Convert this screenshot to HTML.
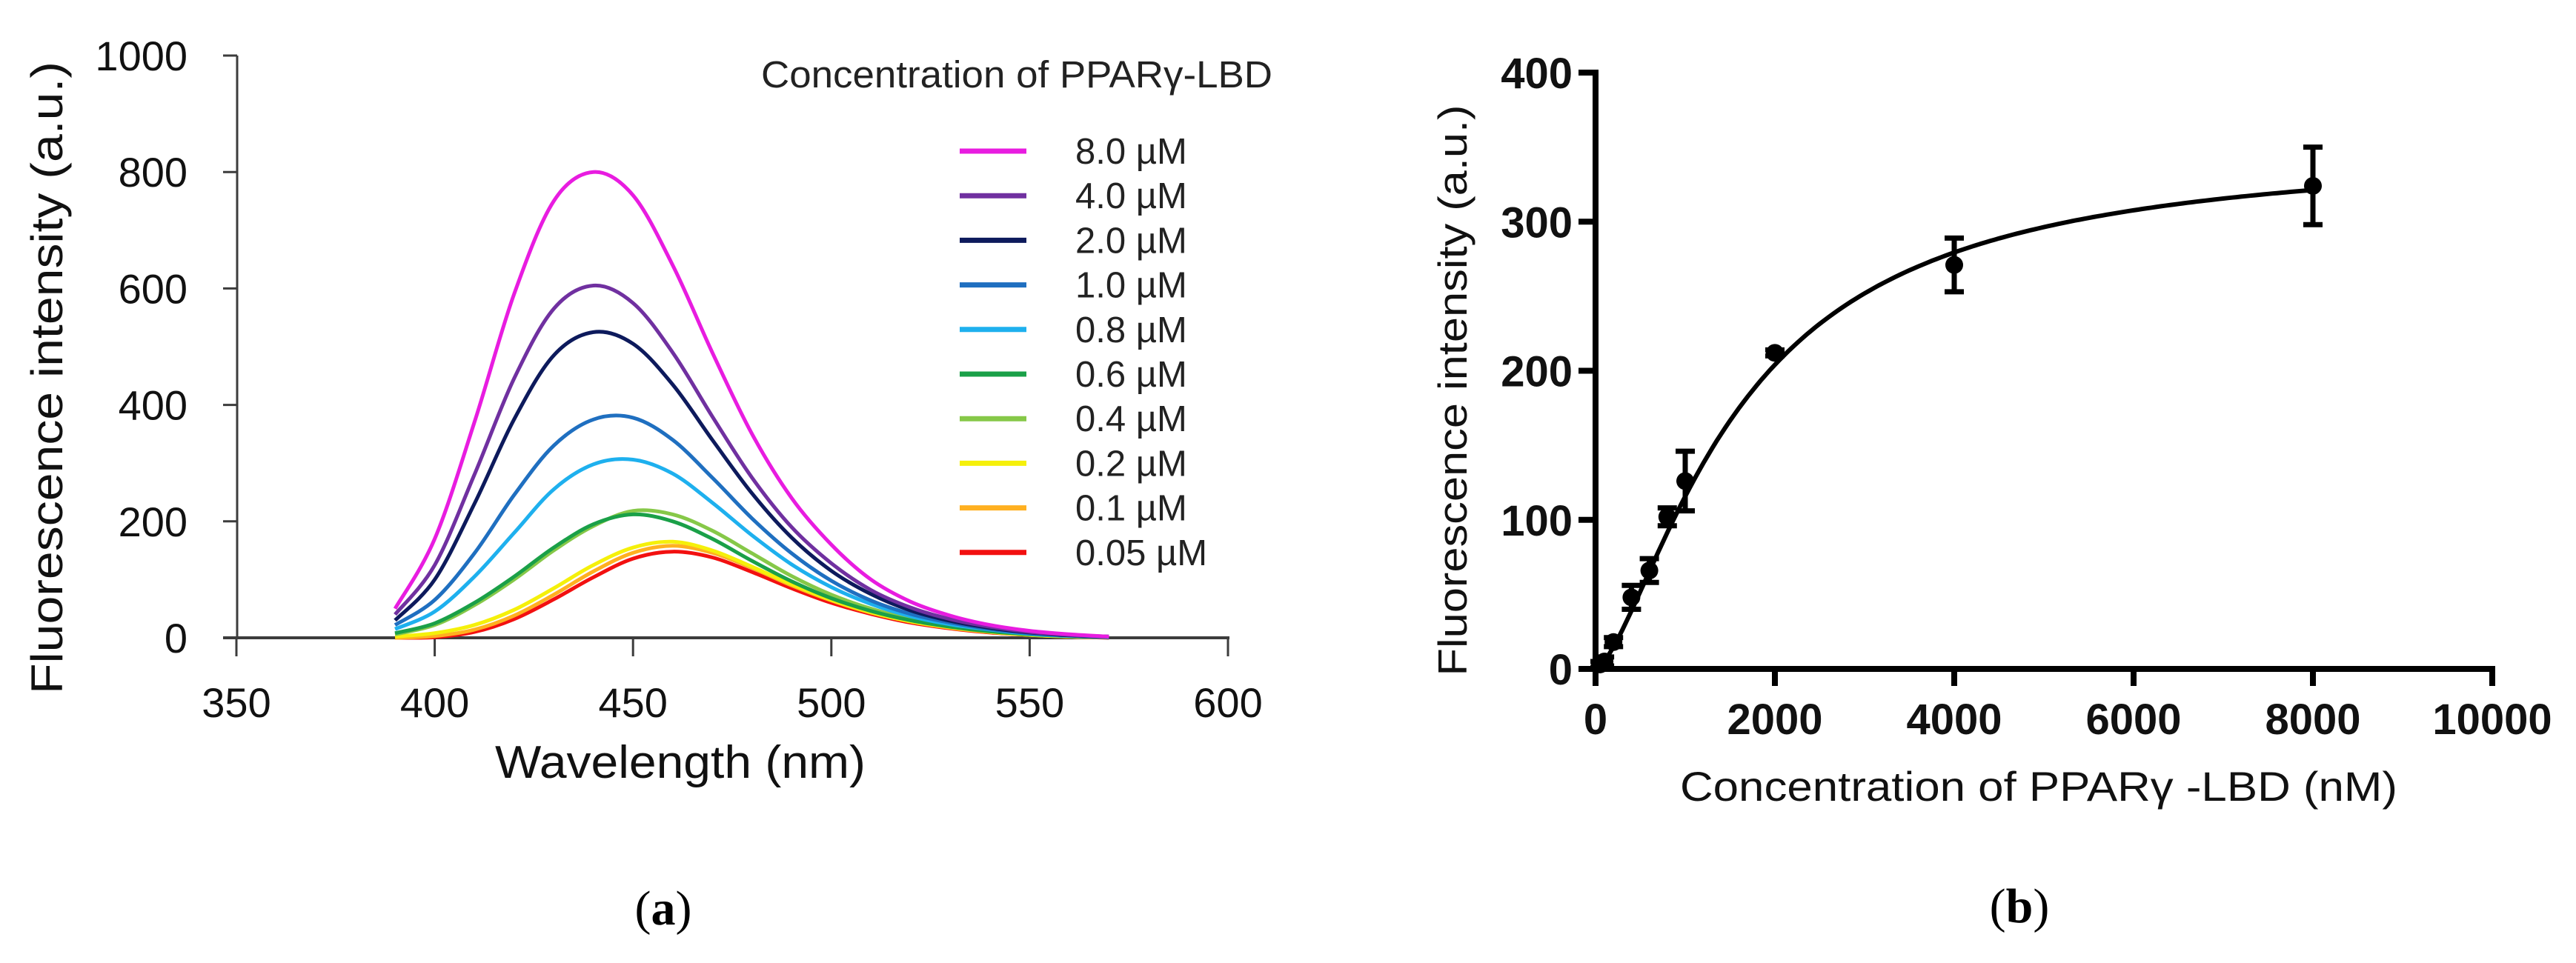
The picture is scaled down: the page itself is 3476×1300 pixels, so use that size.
<!DOCTYPE html>
<html><head><meta charset="utf-8"><style>
html,body{margin:0;padding:0;background:#fff;}
svg{display:block;font-family:"Liberation Sans",sans-serif;}
</style></head><body>
<svg id="fig" width="3476" height="1300" viewBox="0 0 3476 1300" xmlns="http://www.w3.org/2000/svg">
<g id="pa"></g>
<g id="pb"></g>
</svg>
<script>
// ---------- Panel A data ----------
const waveX = [390,400,410,420,430,440,450,460,470,480,490,500,510,520,530,540,550,560,570];
const seriesLabels = ["8.0 \u00b5M","4.0 \u00b5M","2.0 \u00b5M","1.0 \u00b5M","0.8 \u00b5M","0.6 \u00b5M","0.4 \u00b5M","0.2 \u00b5M","0.1 \u00b5M","0.05 \u00b5M"];
const seriesColors = ["#e81ce0","#7030a0","#0d1a5c","#1f6fc0","#1eb0ee","#1aa048","#86c848","#f5f00a","#ffb020","#f21010"];
const s80 = [50,170,370,590,750,800,760,640,490,350,240,160,100,62,38,22,12,6,2];
const s40 = [40,125,280,445,565,605,575,490,380,275,190,128,82,52,32,19,10,5,2];
const s20 = [30,100,230,375,485,525,505,435,340,248,172,115,75,47,29,17,9,4,2];
const s10 = [22,65,145,245,330,375,378,340,275,205,145,98,64,41,26,15,8,4,1];
const s08 = [15,45,105,180,255,298,306,282,232,176,126,87,58,37,23,14,7,3,1];
const s06 = [8,25,60,105,155,195,212,200,170,132,97,68,46,30,19,11,6,3,1];
const s04 = [6,22,56,100,150,192,218,212,184,145,106,74,50,32,20,12,6,3,1];
const s02 = [2,8,22,48,85,125,155,165,150,122,92,65,44,28,18,10,5,2,1];
const s01 = [0,3,14,38,74,114,146,158,146,120,90,64,43,28,17,10,5,2,1];
const s005 = [0,1,10,32,66,104,136,148,138,113,85,60,41,26,16,9,5,2,0];
const seriesA = [s80,s40,s20,s10,s08,s06,s04,s02,s01,s005];
const xTicksA = [350,400,450,500,550,600];
const yTicksA = [0,200,400,600,800,1000];

// ---------- Panel B data ----------
const concX = [50,100,200,400,600,800,1000,2000,4000,8000];
const fluorY = [3,5,18,48,66,102,126,212,271,324];
const fluorErr = [2,3,3,8,8,6,20,2,18,26];
const xTicksB = [0,2000,4000,6000,8000,10000];
const yTicksB = [0,100,200,300,400];
const fitBmax = 350, fitK = 1600, fitN = 1.5;

const NS="http://www.w3.org/2000/svg";
function mk(tag, attrs, parent, text){
  const e=document.createElementNS(NS,tag);
  for(const k in attrs) e.setAttribute(k,attrs[k]);
  if(text!==undefined) e.textContent=text;
  parent.appendChild(e); return e;
}
function smoothPath(pts){
  let d="M"+pts[0][0].toFixed(1)+","+pts[0][1].toFixed(1);
  for(let i=0;i<pts.length-1;i++){
    const p0=pts[Math.max(0,i-1)],p1=pts[i],p2=pts[i+1],p3=pts[Math.min(pts.length-1,i+2)];
    const c1x=p1[0]+(p2[0]-p0[0])/6,c1y=p1[1]+(p2[1]-p0[1])/6;
    const c2x=p2[0]-(p3[0]-p1[0])/6,c2y=p2[1]-(p3[1]-p1[1])/6;
    d+=" C"+c1x.toFixed(1)+","+c1y.toFixed(1)+" "+c2x.toFixed(1)+","+c2y.toFixed(1)+" "+p2[0].toFixed(1)+","+p2[1].toFixed(1);
  }
  return d;
}

// ---------- Panel A ----------
const pa=document.getElementById('pa');
const ax=v=>319+(v-350)*(1657-319)/250;
const ay=v=>861-v*(861-75)/1000;
const axc="#3c3c3c";
let e;
e=mk('line',{x1:320,y1:75,x2:320,y2:861,stroke:axc,'stroke-width':3},pa);


e=mk('line',{x1:301,y1:861,x2:1659,y2:861,stroke:axc,'stroke-width':4},pa);


yTicksA.forEach(v=>{
  const y=ay(v);
  e=mk('line',{x1:301,y1:y,x2:320,y2:y,stroke:axc,'stroke-width':3},pa);
  
  
  e=mk('text',{x:253,y:y+20,'text-anchor':'end','font-size':56,fill:'#111'},pa,String(v));
  
  
});
xTicksA.forEach(v=>{
  const x=ax(v);
  e=mk('line',{x1:x,y1:861,x2:x,y2:886,stroke:axc,'stroke-width':3},pa);
  
  
  e=mk('text',{x:x,y:968,'text-anchor':'middle','font-size':56,fill:'#111'},pa,String(v));
  
  
});
e=mk('text',{x:918,y:1050,'text-anchor':'middle','font-size':62,fill:'#111',textLength:500,lengthAdjust:'spacingAndGlyphs'},pa,"Wavelength (nm)");


e=mk('text',{x:0,y:0,'text-anchor':'middle','font-size':60,fill:'#111',transform:'translate(84,510) rotate(-90)',textLength:854,lengthAdjust:'spacingAndGlyphs'},pa,"Fluorescence  intensity (a.u.)");


// curves (draw lowest last? draw from low to high concentration so top ones visible)
for(let s=seriesA.length-1;s>=0;s--){
  const pts=waveX.map((w,i)=>[ax(w),ay(seriesA[s][i])]);
  e=mk('path',{d:smoothPath(pts),fill:'none',stroke:seriesColors[s],'stroke-width':5,'stroke-linejoin':'round'},pa);
  
  
}
// legend
e=mk('text',{x:1027,y:118,'font-size':51,fill:'#222',textLength:690,lengthAdjust:'spacingAndGlyphs'},pa,"Concentration  of PPAR\u03b3-LBD");


seriesLabels.forEach((lab,i)=>{
  const y=204+i*60.2;
  const g=mk('g',{},pa);
  
  
  mk('line',{x1:1295,y1:y,x2:1385,y2:y,stroke:seriesColors[i],'stroke-width':7},g);
  mk('text',{x:1451,y:y+17,'font-size':49,fill:'#222'},g,lab);
});
e=mk('text',{x:895,y:1248,'text-anchor':'middle','font-size':66,fill:'#000','font-family':'Liberation Serif, serif'},pa,"(");


e.innerHTML='(<tspan font-weight="bold">a</tspan>)';

// ---------- Panel B ----------
const pb=document.getElementById('pb');
const bx=v=>2153+v*(3363-2153)/10000;
const by=v=>903-v*(903-98)/400;
e=mk('line',{x1:2153,y1:94,x2:2153,y2:907,stroke:'#000','stroke-width':8},pb);


e=mk('line',{x1:2130,y1:903,x2:3367,y2:903,stroke:'#000','stroke-width':8},pb);


yTicksB.forEach(v=>{
  const y=by(v);
  e=mk('line',{x1:2130,y1:y,x2:2153,y2:y,stroke:'#000','stroke-width':8},pb);
  
  
  e=mk('text',{x:2122,y:y+21,'text-anchor':'end','font-size':58,'font-weight':'bold',fill:'#111'},pb,String(v));
  
  
});
xTicksB.forEach(v=>{
  const x=bx(v);
  e=mk('line',{x1:x,y1:903,x2:x,y2:926,stroke:'#000','stroke-width':8},pb);
  
  
  e=mk('text',{x:x,y:991,'text-anchor':'middle','font-size':58,'font-weight':'bold',fill:'#111'},pb,String(v));
  
  
});
e=mk('text',{x:2751,y:1081,'text-anchor':'middle','font-size':56,fill:'#111',textLength:968,lengthAdjust:'spacingAndGlyphs'},pb,"Concentration of PPAR\u03b3 -LBD (nM)");


e=mk('text',{x:0,y:0,'text-anchor':'middle','font-size':55,fill:'#111',transform:'translate(1979,527) rotate(-90)',textLength:771,lengthAdjust:'spacingAndGlyphs'},pb,"Fluorescence intensity (a.u.)");


// fit curve
const fitPts=[];
for(let c=0;c<=8000;c+=50){ fitPts.push([bx(c),by(fitBmax*Math.pow(c,fitN)/(Math.pow(fitK,fitN)+Math.pow(c,fitN)))]); }
e=mk('path',{d:"M"+fitPts.map(p=>p[0].toFixed(1)+","+p[1].toFixed(1)).join(" L"),fill:'none',stroke:'#000','stroke-width':6},pb);


concX.forEach((c,i)=>{
  const x=bx(c),y=by(fluorY[i]),yt=by(fluorY[i]+fluorErr[i]),yb=by(fluorY[i]-fluorErr[i]);
  const g=mk('g',{},pb);
  
  
  mk('line',{x1:x,y1:yt,x2:x,y2:yb,stroke:'#000','stroke-width':7},g);
  mk('line',{x1:x-13,y1:yt,x2:x+13,y2:yt,stroke:'#000','stroke-width':7},g);
  mk('line',{x1:x-13,y1:yb,x2:x+13,y2:yb,stroke:'#000','stroke-width':7},g);
  mk('circle',{cx:x,cy:y,r:12,fill:'#000'},g);
});
e=mk('text',{x:2725,y:1245,'text-anchor':'middle','font-size':66,fill:'#000','font-family':'Liberation Serif, serif'},pb,"");


e.innerHTML='(<tspan font-weight="bold">b</tspan>)';
</script>
</body></html>
